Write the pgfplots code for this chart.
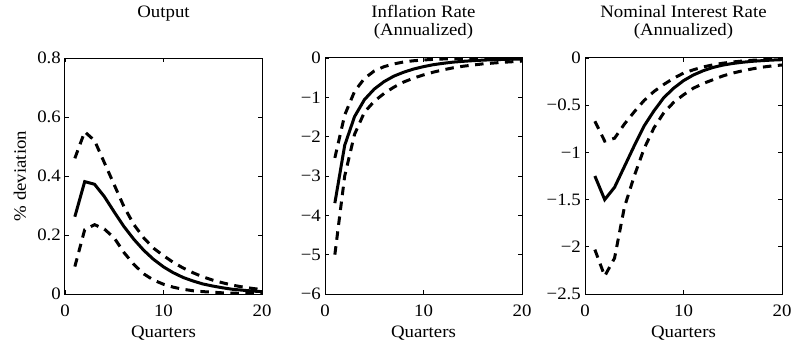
\documentclass[border=0pt]{standalone}
\usepackage{fontspec}
\setmainfont[FakeStretch=1.08]{Liberation Serif}
\usepackage{pgfplots}
\usepackage{pgfplotstable}
\pgfplotsset{compat=1.18}

\pgfplotstableread{
x med up lo
1 0.262 0.46 0.093
2 0.381 0.55 0.218
3 0.372 0.52 0.235
4 0.33 0.445 0.22
5 0.278 0.37 0.19
6 0.228 0.295 0.14
7 0.185 0.235 0.10
8 0.148 0.19 0.068
9 0.117 0.155 0.047
10 0.092 0.13 0.033
11 0.072 0.107 0.023
12 0.056 0.088 0.016
13 0.044 0.072 0.011
14 0.034 0.058 0.008
15 0.027 0.047 0.006
16 0.021 0.038 0.004
17 0.016 0.030 0.003
18 0.013 0.024 0.002
19 0.010 0.019 0.001
20 0.008 0.015 0.001
}\outputdata

\pgfplotstableread{
x med up lo
1 -3.69 -2.54 -5.0
2 -2.22 -1.45 -3.0
3 -1.49 -0.85 -1.94
4 -1.06 -0.52 -1.38
5 -0.79 -0.33 -1.1
6 -0.6 -0.22 -0.9
7 -0.46 -0.15 -0.74
8 -0.36 -0.10 -0.61
9 -0.28 -0.07 -0.51
10 -0.22 -0.05 -0.43
11 -0.17 -0.035 -0.36
12 -0.135 -0.025 -0.30
13 -0.105 -0.02 -0.25
14 -0.085 -0.015 -0.21
15 -0.068 -0.01 -0.18
16 -0.055 -0.008 -0.15
17 -0.045 -0.006 -0.13
18 -0.037 -0.005 -0.11
19 -0.03 -0.004 -0.095
20 -0.025 -0.003 -0.08
}\inflationdata

\pgfplotstableread{
x med up lo
1 -1.25 -0.67 -2.03
2 -1.5 -0.88 -2.31
3 -1.37 -0.85 -2.12
4 -1.15 -0.70 -1.58
5 -0.93 -0.57 -1.25
6 -0.72 -0.45 -0.96
7 -0.56 -0.355 -0.74
8 -0.42 -0.28 -0.58
9 -0.32 -0.215 -0.47
10 -0.24 -0.16 -0.39
11 -0.18 -0.125 -0.32
12 -0.135 -0.095 -0.27
13 -0.10 -0.072 -0.23
14 -0.075 -0.055 -0.19
15 -0.058 -0.042 -0.16
16 -0.045 -0.032 -0.135
17 -0.035 -0.024 -0.115
18 -0.028 -0.018 -0.097
19 -0.022 -0.014 -0.084
20 -0.018 -0.011 -0.074
}\interestdata

\pgfplotsset{
  irf/.style={
    scale only axis, width=197bp, height=236bp,
    xmin=0, xmax=20, xtick={0,10,20}, xticklabels={0,10,20},
    axis line style={line width=1bp},
    major tick style={line width=0.8bp, black},
    major tick length=4bp,
    tick align=inside,
    tick label style={font=\fontsize{17.5}{18}\selectfont},
    xticklabel style={anchor=base, yshift=-22.7bp},
    yticklabel style={inner sep=0pt, xshift=-4bp},
    xlabel={Quarters},
    xlabel style={at={(axis description cs:0.5,0)}, anchor=base, yshift=-43bp, font=\fontsize{17.5}{18}\selectfont},
    title style={at={(axis description cs:0.5,1)}, anchor=south, inner sep=0pt, yshift=12.5bp, align=center, font=\fontsize{17.5}{18.4}\selectfont},
  },
  med/.style={black, line width=3bp, no markers},
  band/.style={black, line width=3bp, no markers, dash pattern=on 8.5bp off 6.5bp},
}

\begin{document}
\begin{tikzpicture}
\begin{axis}[irf, at={(0,0)}, anchor=south west,
  title={Output\\\phantom{(Annualized)}},
  ymin=0, ymax=0.8, ytick={0,0.2,0.4,0.6,0.8}, yticklabels={0,0.2,0.4,0.6,0.8},
  ylabel={\% deviation},
  ylabel style={at={(axis description cs:-0.2284,0.5)}, anchor=center, font=\fontsize{17.5}{18}\selectfont}]
\addplot[med] table[x=x,y=med] {\outputdata};
\addplot[band] table[x=x,y=up] {\outputdata};
\addplot[band] table[x=x,y=lo] {\outputdata};
\end{axis}
\begin{axis}[irf, at={(260bp,0)}, anchor=south west,
  title={Inflation Rate\\(Annualized)},
  ymin=-6, ymax=0, ytick={-6,-5,-4,-3,-2,-1,0}, yticklabels={−6,−5,−4,−3,−2,−1,0}]
\addplot[med] table[x=x,y=med] {\inflationdata};
\addplot[band] table[x=x,y=up] {\inflationdata};
\addplot[band] table[x=x,y=lo] {\inflationdata};
\end{axis}
\begin{axis}[irf, at={(520bp,0)}, anchor=south west,
  title={Nominal Interest Rate\\(Annualized)},
  ymin=-2.5, ymax=0, ytick={-2.5,-2,-1.5,-1,-0.5,0}, yticklabels={−2.5,−2,−1.5,−1,−0.5,0}]
\addplot[med] table[x=x,y=med] {\interestdata};
\addplot[band] table[x=x,y=up] {\interestdata};
\addplot[band] table[x=x,y=lo] {\interestdata};
\end{axis}
\pgfresetboundingbox
\path (-65bp,-53bp) rectangle (732bp,294bp);
\end{tikzpicture}
\end{document}
